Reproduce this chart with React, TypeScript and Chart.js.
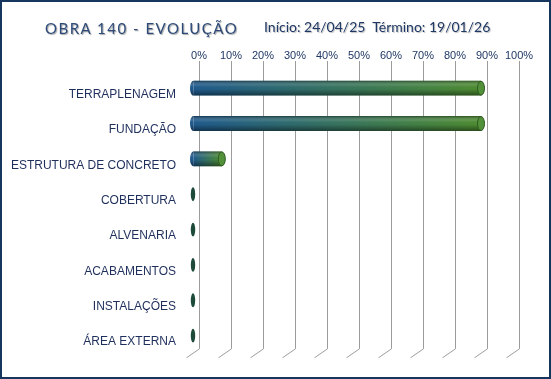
import React, { useEffect, useRef } from 'react';
import { Chart, registerables } from 'chart.js';

Chart.register(...registerables);

const categories = [
  'TERRAPLENAGEM',
  'FUNDAÇÃO',
  'ESTRUTURA DE CONCRETO',
  'COBERTURA',
  'ALVENARIA',
  'ACABAMENTOS',
  'INSTALAÇÕES',
  'ÁREA EXTERNA',
];
const progress = [90, 90, 9, 0, 0, 0, 0, 0];
const axisMin = 0;
const axisMax = 100;
const axisStep = 10;

const titleText = 'OBRA 140 - EVOLUÇÃO';
const datesText = 'Início: 24/04/25  Término: 19/01/26';

const BLUE = '#1f5a8d';
const GREEN = '#4e8d31';
const GRID = '#9c9c9c';
const NAVY = '#1f3864';

const SHIFT_X = -6;
const SHIFT_Y = 4.5;
const DEPTH_DX = -13;
const DEPTH_DY = 9;

const depthPlugin = {
  id: 'depth3d',
  beforeDatasetsDraw(chart: any) {
    const { ctx, chartArea, scales } = chart;
    ctx.save();
    ctx.strokeStyle = GRID;
    ctx.lineWidth = 1;
    scales.x.ticks.forEach((t: any) => {
      const x = Math.round(scales.x.getPixelForValue(t.value)) + 0.5;
      ctx.beginPath();
      ctx.moveTo(x, chartArea.bottom);
      ctx.lineTo(x + DEPTH_DX, chartArea.bottom + DEPTH_DY);
      ctx.stroke();
    });
    ctx.restore();
    ctx.save();
    ctx.translate(SHIFT_X, SHIFT_Y);
  },
  afterDatasetsDraw(chart: any) {
    const ctx = chart.ctx;
    const meta = chart.getDatasetMeta(0);
    meta.data.forEach((el: any) => {
      const { x, y, base, height } = el.getProps(['x', 'y', 'base', 'height'], true);
      if (![x, y, base, height].every((v) => Number.isFinite(v))) return;
      const ry = height / 2;
      const rx = 3.5;
      const top = y - ry;
      const bottom = y + ry;
      const len = x - base;
      if (len < 1) {
        ctx.beginPath();
        ctx.ellipse(base, y, 2.2, ry - 0.5, 0, 0, Math.PI * 2);
        ctx.fillStyle = '#1d4a39';
        ctx.fill();
        return;
      }
      ctx.beginPath();
      ctx.ellipse(base, y, rx, ry, 0, Math.PI / 2, Math.PI * 1.5);
      ctx.closePath();
      ctx.fillStyle = BLUE;
      ctx.fill();
      ctx.beginPath();
      ctx.ellipse(base, y, rx, ry, 0, -Math.PI / 2, Math.PI / 2, true);
      ctx.lineTo(x, bottom);
      ctx.ellipse(x, y, rx, ry, 0, Math.PI / 2, -Math.PI / 2, true);
      ctx.closePath();
      const g = ctx.createLinearGradient(0, top, 0, bottom);
      g.addColorStop(0, 'rgba(0,0,0,0.40)');
      g.addColorStop(0.3, 'rgba(255,255,255,0.10)');
      g.addColorStop(0.55, 'rgba(0,0,0,0)');
      g.addColorStop(1, 'rgba(0,0,0,0.45)');
      ctx.fillStyle = g;
      ctx.fill();
      ctx.beginPath();
      ctx.ellipse(x, y, rx, ry - 0.5, 0, 0, Math.PI * 2);
      ctx.fillStyle = '#52913a';
      ctx.fill();
      ctx.strokeStyle = '#2c5a1f';
      ctx.lineWidth = 1;
      ctx.stroke();
    });
    ctx.restore();
  },
};

export default function App() {
  const ref = useRef<HTMLCanvasElement | null>(null);

  useEffect(() => {
    document.body.style.margin = '0';
    const canvas = ref.current;
    if (!canvas) return;
    const chart = new Chart(canvas, {
      type: 'bar',
      data: {
        labels: categories,
        datasets: [
          {
            data: progress,
            clip: false as any,
            borderWidth: 0,
            barPercentage: 0.42,
            categoryPercentage: 1,
            backgroundColor: (c: any) => {
              const ch = c.chart;
              const xs = ch.scales && ch.scales.x;
              if (!xs || c.type !== 'data') return BLUE;
              const x0 = xs.getPixelForValue(0);
              const x1 = xs.getPixelForValue(c.raw);
              if (!Number.isFinite(x0) || !Number.isFinite(x1) || x1 - x0 < 1) return BLUE;
              const g = ch.ctx.createLinearGradient(x0, 0, x1, 0);
              g.addColorStop(0, BLUE);
              g.addColorStop(1, GREEN);
              return g;
            },
          },
        ],
      },
      options: {
        indexAxis: 'y',
        responsive: false,
        maintainAspectRatio: false,
        animation: false,
        layout: { padding: { left: 0, right: 32, top: 0, bottom: 27 } },
        plugins: {
          legend: { display: false },
          tooltip: { enabled: false },
          title: { display: false },
        },
        scales: {
          x: {
            position: 'top',
            min: axisMin,
            max: axisMax,
            afterFit: (s: any) => {
              s.height = 66;
            },
            grid: { color: GRID, lineWidth: 1, drawTicks: true, tickLength: 5, tickColor: GRID },
            border: { display: false },
            ticks: {
              stepSize: axisStep,
              padding: -2,
              color: NAVY,
              font: { family: 'Liberation Sans, Arial, sans-serif', size: 11 },
              callback: (v: any) => v + '%',
              maxRotation: 0,
            },
          },
          y: {
            afterFit: (s: any) => {
              s.width = 199;
            },
            grid: { display: false, drawTicks: false },
            border: { display: false },
            ticks: {
              padding: 23,
              labelOffset: 11,
              color: '#1f2f5c',
              font: { family: 'Liberation Sans, Arial, sans-serif', size: 12 },
            },
          },
        },
      },
      plugins: [depthPlugin],
    });
    chart.update();
    return () => chart.destroy();
  }, []);

  return (
    <div style={{ position: 'relative', width: 551, height: 379, background: '#fff', overflow: 'hidden' }}>
      <canvas ref={ref} width={551} height={379} style={{ position: 'absolute', left: 0, top: 0, display: 'block' }} />
      <div
        style={{
          position: 'absolute',
          left: 45,
          top: 17,
          height: 22,
          lineHeight: '22px',
          fontFamily: 'Lato, "Open Sans", sans-serif',
          fontSize: 15,
          letterSpacing: 1.5,
          color: '#2d4a78',
          whiteSpace: 'nowrap',
          textShadow: '1px 1px 1px rgba(0,0,0,0.35)',
        }}
      >
        {titleText}
      </div>
      <div
        style={{
          position: 'absolute',
          left: 264,
          top: 16,
          height: 22,
          lineHeight: '22px',
          fontFamily: 'Lato, "Open Sans", sans-serif',
          fontSize: 14,
          color: NAVY,
          whiteSpace: 'pre',
          textShadow: '1px 1px 1px rgba(0,0,0,0.25)',
        }}
      >
        {datesText}
      </div>
      <div
        style={{
          position: 'absolute',
          left: 0,
          top: 0,
          width: 551,
          height: 379,
          boxSizing: 'border-box',
          border: '2px solid #17365d',
          pointerEvents: 'none',
        }}
      />
    </div>
  );
}
